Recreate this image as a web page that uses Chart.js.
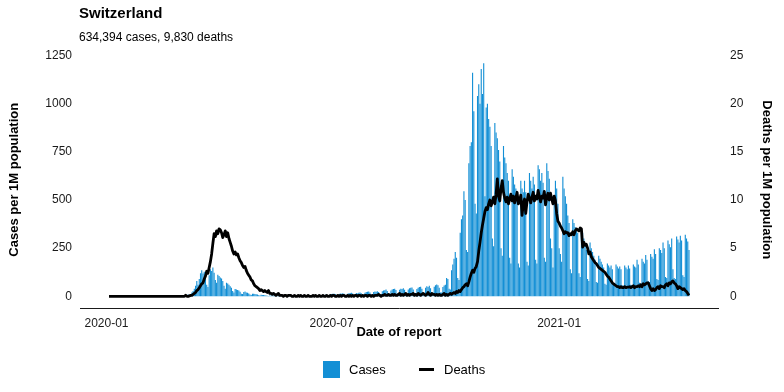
<!DOCTYPE html>
<html>
<head>
<meta charset="utf-8">
<script src="https://cdn.jsdelivr.net/npm/chart.js@4.4.1/dist/chart.umd.min.js"></script>
<style>
  body { margin: 0; background: #fff; font-family: "Liberation Sans", Arial, sans-serif; color: #000; }
  #wrap { position: relative; width: 784px; height: 392px; overflow: hidden; }
  #chart { position: absolute; left: 0; top: 0; }
  .title { position: absolute; left: 79px; top: 4px; font-size: 15px; font-weight: bold; }
  .subtitle { position: absolute; left: 79px; top: 30px; font-size: 12px; }
  .key-box { position: absolute; left: 323px; top: 361px; width: 17px; height: 17px; background: #138fd5; }
  .key-line { position: absolute; left: 419px; top: 368px; width: 15px; height: 3px; background: #000; }
  .key-text { position: absolute; top: 362px; font-size: 13px; line-height: 15px; }
</style>
</head>
<body>
<div id="wrap">
  <canvas id="chart" width="784" height="392"></canvas>
  <div class="title">Switzerland</div>
  <div class="subtitle">634,394 cases, 9,830 deaths</div>
  <div class="key-box"></div><div class="key-text" style="left:349px">Cases</div>
  <div class="key-line"></div><div class="key-text" style="left:444px">Deaths</div>
</div>
<script>
// daily values per 1M population, first day = startDate, one row per week
const startDate = '2020-01-03';

const casesPerM = [
  0,0,0,0,0,0,0, 0,0,0,0,0,0,0, 0,0,0,0,0,0,0, 0,0,0,0,0,0,0,
  0,0,0,0,0,0,0, 0,0,0,0,0,0,0, 0,0,0,0,0,0,0,
  0,0,0,0,0.1,0.1,0.1,
  0.5,0.8,0.9,1.2,2.5,3.5,5,
  7,9,6,12,20,28,40,
  55,80,60,90,120,135,118,
  128,95,60,48,110,140,132,
  150,122,85,70,112,105,98,
  92,80,55,40,70,66,60,
  52,45,28,20,38,35,33,
  30,24,14,12,22,25,20,
  18,15,9,7,14,13,12,
  11,9,6,4,8,7,7,
  6,5,3,2,5,5,4,
  4,4,2,2,3,4,3,
  3,3,2,1.5,2.5,3,2.5,
  2.5,2,1.5,1,2.5,2,2,
  2.5,2,1.5,1.5,3,2.5,2.5,
  3,2.5,2,2,3.5,3,3,
  4,3.5,2.5,2.5,5,6,7,
  8,7,4,5,10,12,13,
  14,12,7,6,12,15,13,
  16,13,8,7,14,16,17,
  18,15,8,8,17,15,18,
  20,16,9,9,19,22,24,
  25,20,10,10,22,25,24,
  27,22,12,11,26,30,32,
  35,28,14,13,30,36,38,
  40,33,15,14,34,40,38,
  42,34,16,14,36,42,44,
  46,36,17,16,38,45,48,
  50,40,18,17,44,52,48,
  55,42,20,18,50,58,62,
  58,44,20,20,48,56,60,
  95,90,40,35,135,165,195,
  230,200,95,85,330,400,420,
  545,500,240,230,690,780,800,
  1160,960,480,430,1040,1100,1000,
  1180,1050,1210,520,980,1000,920,
  880,780,300,260,900,850,820,
  760,700,250,210,780,720,690,
  640,600,200,170,660,620,580,
  560,520,170,150,600,560,540,
  600,540,180,160,640,600,560,
  620,580,190,170,680,660,600,
  640,590,200,180,690,650,610,
  300,250,150,520,600,560,480,
  250,220,180,620,560,520,480,
  420,380,140,120,400,380,360,
  355,330,120,100,350,330,300,
  260,240,90,80,280,250,230,
  210,190,75,70,210,195,180,
  165,150,65,60,170,160,150,
  160,140,60,55,165,155,145,
  155,140,58,55,160,150,140,
  160,145,60,58,165,155,150,
  190,165,70,65,195,180,170,
  215,190,80,75,220,205,195,
  245,220,90,85,250,240,225,
  280,250,100,95,290,270,255,
  300,140,95,90,310,295,280,
  315,290,110,100,320,300,285,
  240
];

const deathsPerM = [
  0,0,0,0,0,0,0, 0,0,0,0,0,0,0, 0,0,0,0,0,0,0, 0,0,0,0,0,0,0,
  0,0,0,0,0,0,0, 0,0,0,0,0,0,0, 0,0,0,0,0,0,0, 0,0,0,0,0,0,0,
  0,0,0,0,0,0,0.12,
  0,0,0.05,0.1,0.1,0.2,0.3,
  0.4,0.6,0.7,0.9,1.1,1.3,1.4,
  1.8,2.1,2.6,2.4,3.0,3.6,4.4,
  5.5,6.5,6.2,6.8,6.5,7.0,6.9,
  6.6,6.1,6.4,6.8,6.2,6.6,6.0,
  5.6,5.2,4.7,4.4,4.6,4.3,4.4,
  4.0,3.7,3.5,3.2,3.0,3.1,2.7,
  2.4,2.2,2.0,1.7,1.6,1.3,1.1,
  1.0,0.9,0.8,0.6,0.7,0.6,0.5,
  0.6,0.5,0.4,0.6,0.3,0.3,0.2,
  0.3,0.2,0.1,0.2,0.3,0.1,0.1,
  0.1,0,0.1,0.1,0,0.1,0.1,
  0.1,0,0,0.1,0,0,0.1,
  0,0.1,0,0,0.1,0,0,
  0.1,0,0,0,0.1,0,0.1,
  0,0,0.1,0,0,0.1,0,
  0,0.1,0,0,0.1,0,0.1,
  0.1,0,0,0.1,0,0.1,0,
  0.1,0.1,0,0,0.1,0,0.1,
  0,0.1,0,0.1,0.1,0,0.1,
  0.1,0,0.1,0,0.1,0.1,0,
  0.1,0.1,0,0.1,0,0.1,0.1,
  0.1,0.2,0.1,0,0.1,0.1,0.2,
  0.1,0.1,0.2,0.1,0.1,0.2,0.1,
  0.2,0.1,0.1,0.2,0.3,0.1,0.2,
  0.1,0.2,0.3,0.1,0.2,0.1,0.2,
  0.2,0.3,0.1,0.2,0.1,0.3,0.2,
  0.1,0.2,0.3,0.2,0.1,0.2,0.4,
  0.2,0.1,0.3,0.2,0.2,0.1,0.2,
  0.1,0.2,0.1,0.1,0.2,0.3,0.1,
  0.2,0.1,0.2,0.3,0.2,0.3,0.4,
  0.3,0.5,0.4,0.6,0.5,0.7,0.9,
  1.0,1.2,1.3,1.1,1.5,2.0,2.4,
  2.7,2.5,2.9,3.1,3.6,4.7,5.6,
  6.6,7.4,8.1,8.8,9.2,9.0,9.6,
  10.0,9.4,9.8,10.3,9.6,10.6,12.2,
  10.4,9.9,11.2,12.0,10.8,10.2,9.8,
  10.3,9.6,10.1,10.6,9.9,10.4,9.7,
  10.2,10.8,9.6,9.9,10.5,8.4,9.6,
  10.1,8.6,9.8,10.6,10.2,9.7,10.3,
  10.8,9.9,10.4,10.1,11.0,10.3,9.8,
  10.4,10.2,10.9,9.5,10.3,10.7,10.0,
  10.7,10.1,9.6,10.4,9.9,8.6,7.8,
  7.6,7.3,7.1,6.8,6.5,6.7,6.6,
  6.6,6.3,6.5,6.4,6.7,6.4,6.8,
  7.0,6.9,6.8,7.1,7.0,5.1,5.6,
  5.3,5.4,5.0,4.4,4.6,4.1,3.9,
  3.7,3.5,3.4,3.2,3.0,2.9,2.8,
  2.7,2.6,2.5,2.3,2.1,2.0,1.8,
  1.6,1.4,1.3,1.2,1.1,1.0,1.0,
  0.9,1.0,0.9,0.9,1.0,0.9,0.95,
  0.95,1.0,0.9,1.0,1.1,0.9,1.0,
  1.0,1.1,1.0,1.2,1.0,1.3,1.2,
  1.3,1.4,1.4,1.1,0.8,0.6,0.8,
  0.6,0.7,0.9,1.0,0.8,1.1,1.0,
  1.0,0.9,1.2,1.3,1.1,1.4,1.3,
  1.5,1.6,1.4,1.3,1.1,0.8,1.0,
  0.9,0.8,0.7,0.8,0.6,0.5,0.3,
  0.1
];

const xTickDates = ['2020-01-01', '2020-07-01', '2021-01-01'];
const casesTicks = [0, 250, 500, 750, 1000, 1250];
const deathsTicks = [0, 5, 10, 15, 20, 25];
const deathsScale = 50; // secondary axis = cases / 50

const dayIndex = (iso) => Math.round((Date.parse(iso) - Date.parse(startDate)) / 86400000);

// ggplot-like 5% expansion on both axes
const span = casesPerM.length - 1;
const yTop = Math.max(...casesPerM);
const yPad = yTop * 0.05;

const tickFont = { family: '"Liberation Sans", Arial, sans-serif', size: 12 };
const titleFont = { family: '"Liberation Sans", Arial, sans-serif', size: 13, weight: 'bold' };
const plain = (v) => String(v);

new Chart(document.getElementById('chart'), {
  data: {
    datasets: [
      {
        type: 'line',
        label: 'Deaths',
        data: deathsPerM.map((v, i) => ({ x: i, y: v })),
        yAxisID: 'y2',
        borderColor: '#000',
        borderWidth: 2.8,
        borderJoinStyle: 'round',
        pointRadius: 0,
        tension: 0,
        order: 0
      },
      {
        type: 'bar',
        label: 'Cases',
        data: casesPerM.map((v, i) => ({ x: i, y: v })),
        yAxisID: 'y',
        backgroundColor: '#138fd5',
        barPercentage: 1,
        categoryPercentage: 0.9,
        order: 1
      }
    ]
  },
  options: {
    responsive: false,
    animation: false,
    events: [],
    layout: { padding: { top: 51.5, left: 0, right: 0, bottom: 46 } },
    plugins: { legend: { display: false }, tooltip: { enabled: false } },
    scales: {
      x: {
        type: 'linear',
        offset: false,
        min: -span * 0.05,
        max: span * 1.05,
        afterBuildTicks: (s) => { s.ticks = xTickDates.map(d => ({ value: dayIndex(d) })); },
        afterFit: (s) => { s.height = 38; },
        grid: { display: false, drawTicks: false },
        border: { display: true, color: '#1a1a1a', width: 1 },
        ticks: {
          autoSkip: false, maxRotation: 0, padding: 8, color: '#1a1a1a', font: tickFont,
          callback: (v) => {
            const d = xTickDates.find(t => dayIndex(t) === v);
            return d ? d.slice(0, 7) : '';
          }
        },
        title: { display: true, text: 'Date of report', color: '#000', font: titleFont, padding: { top: 0, bottom: 6 } }
      },
      y: {
        position: 'left',
        min: -yPad,
        max: yTop + yPad,
        afterBuildTicks: (s) => { s.ticks = casesTicks.map(v => ({ value: v })); },
        afterFit: (s) => { s.width = 80; },
        grid: { display: false, drawTicks: false },
        border: { display: false },
        ticks: { padding: 8, color: '#1a1a1a', font: tickFont, callback: plain },
        title: { display: true, text: 'Cases per 1M population', color: '#000', font: titleFont, padding: { top: 7, bottom: 0 } }
      },
      y2: {
        position: 'right',
        min: -yPad / deathsScale,
        max: (yTop + yPad) / deathsScale,
        afterBuildTicks: (s) => { s.ticks = deathsTicks.map(v => ({ value: v })); },
        afterFit: (s) => { s.width = 66; },
        grid: { display: false, drawTicks: false },
        border: { display: false },
        ticks: { padding: 12, color: '#1a1a1a', font: tickFont, callback: plain },
        title: { display: true, text: 'Deaths per 1M population', color: '#000', font: titleFont, padding: { top: 10, bottom: 0 } }
      }
    }
  }
});
</script>
</body>
</html>
